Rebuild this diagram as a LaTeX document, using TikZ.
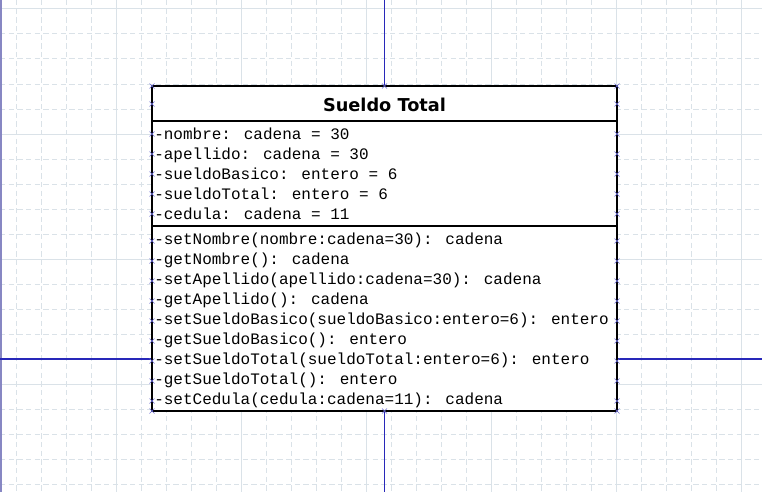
\documentclass[tikz,border=0pt]{standalone}
\usepackage{fontspec}
\newfontfamily\monofont{Liberation Mono}
\newfontfamily\titlefont{DejaVu Sans}
\usetikzlibrary{positioning}
\definecolor{gridgray}{RGB}{218,226,232}
\definecolor{linkblue}{RGB}{40,40,185}
\definecolor{markblue}{RGB}{105,105,210}
\definecolor{edgepurple}{RGB}{135,135,195}

\tikzset{
  gridline/.style={gridgray, line width=0.75pt},
  griddash/.style={gridgray, line width=0.75pt, dash pattern=on 4pt off 2.5pt},
  clasebox/.style={draw, fill=white, line width=1.5pt, minimum width=348.75pt, minimum height=243.75pt, inner sep=0pt},
  titulo/.style={anchor=base, inner sep=0pt, font=\titlefont\bfseries\fontsize{13.3}{13.3}\selectfont},
  miembro/.style={anchor=base west, inner sep=0pt, font=\monofont\fontsize{12}{12}\selectfont},
  enlace/.style={linkblue, line width=0.8pt},
  xmark/.pic={\draw[markblue, line width=0.5pt] (-2.5,-2.5) -- (2.5,2.5) (-2.5,2.5) -- (2.5,-2.5);}
}

\begin{document}
\begin{tikzpicture}[x=0.75pt, y=-0.75pt]
  \useasboundingbox (0,0) rectangle (762,492);

  % background grid
  \foreach \x in {16.7,41.7,...,762} \draw[griddash] (\x,0) -- (\x,492);
  \foreach \y in {9,34,...,492} \draw[griddash] (0,\y) -- (762,\y);
  \foreach \x in {116.7,241.7,...,762} \draw[gridline] (\x,0) -- (\x,492);
  \foreach \y in {9,134,...,492} \draw[gridline] (0,\y) -- (762,\y);
  \draw[edgepurple, line width=1.5pt] (0.75,0) -- (0.75,492);

  % class box
  \node[clasebox] (clase) at (384.5,248.5) {};
  \draw[line width=1.5pt] (clase.west |- 0,121) -- (clase.east |- 0,121);
  \draw[line width=1.5pt] (clase.west |- 0,226) -- (clase.east |- 0,226);

  % connectors
  \coordinate (arriba) at (384.5,0);
  \coordinate (abajo) at (384.5,492);
  \coordinate (izq) at (0,359);
  \coordinate (der) at (762,359);
  \draw[enlace] (arriba) -- (clase.north);
  \draw[enlace] (clase.south) -- (abajo);
  \draw[enlace] (izq) -- (izq -| clase.west);
  \draw[enlace] (clase.east |- der) -- (der);

  % edge markers
  \foreach \y in {86,104,134,154,...,214,241,261,...,401,411} {
    \pic at (152,\y) {xmark};
    \pic at (617,\y) {xmark};
  }
  \pic at (384.5,86) {xmark};
  \pic at (384.5,411) {xmark};

  % title
  \node[titulo] (nombre) at (384.5,111.5) {Sueldo Total};

  % attributes
  \foreach \txt [count=\i] in {
      -nombre: cadena = 30,
      -apellido: cadena = 30,
      -sueldoBasico: entero = 6,
      -sueldoTotal: entero = 6,
      -cedula: cadena = 11}
    \node[miembro] (atr\i) at (154,119+20*\i) {\txt};

  % methods
  \foreach \txt [count=\i] in {
      -setNombre(nombre:cadena=30): cadena,
      -getNombre(): cadena,
      -setApellido(apellido:cadena=30): cadena,
      -getApellido(): cadena,
      -setSueldoBasico(sueldoBasico:entero=6): entero,
      -getSueldoBasico(): entero,
      -setSueldoTotal(sueldoTotal:entero=6): entero,
      -getSueldoTotal(): entero,
      -setCedula(cedula:cadena=11): cadena}
    \node[miembro] (met\i) at (154,224+20*\i) {\txt};
\end{tikzpicture}
\end{document}
